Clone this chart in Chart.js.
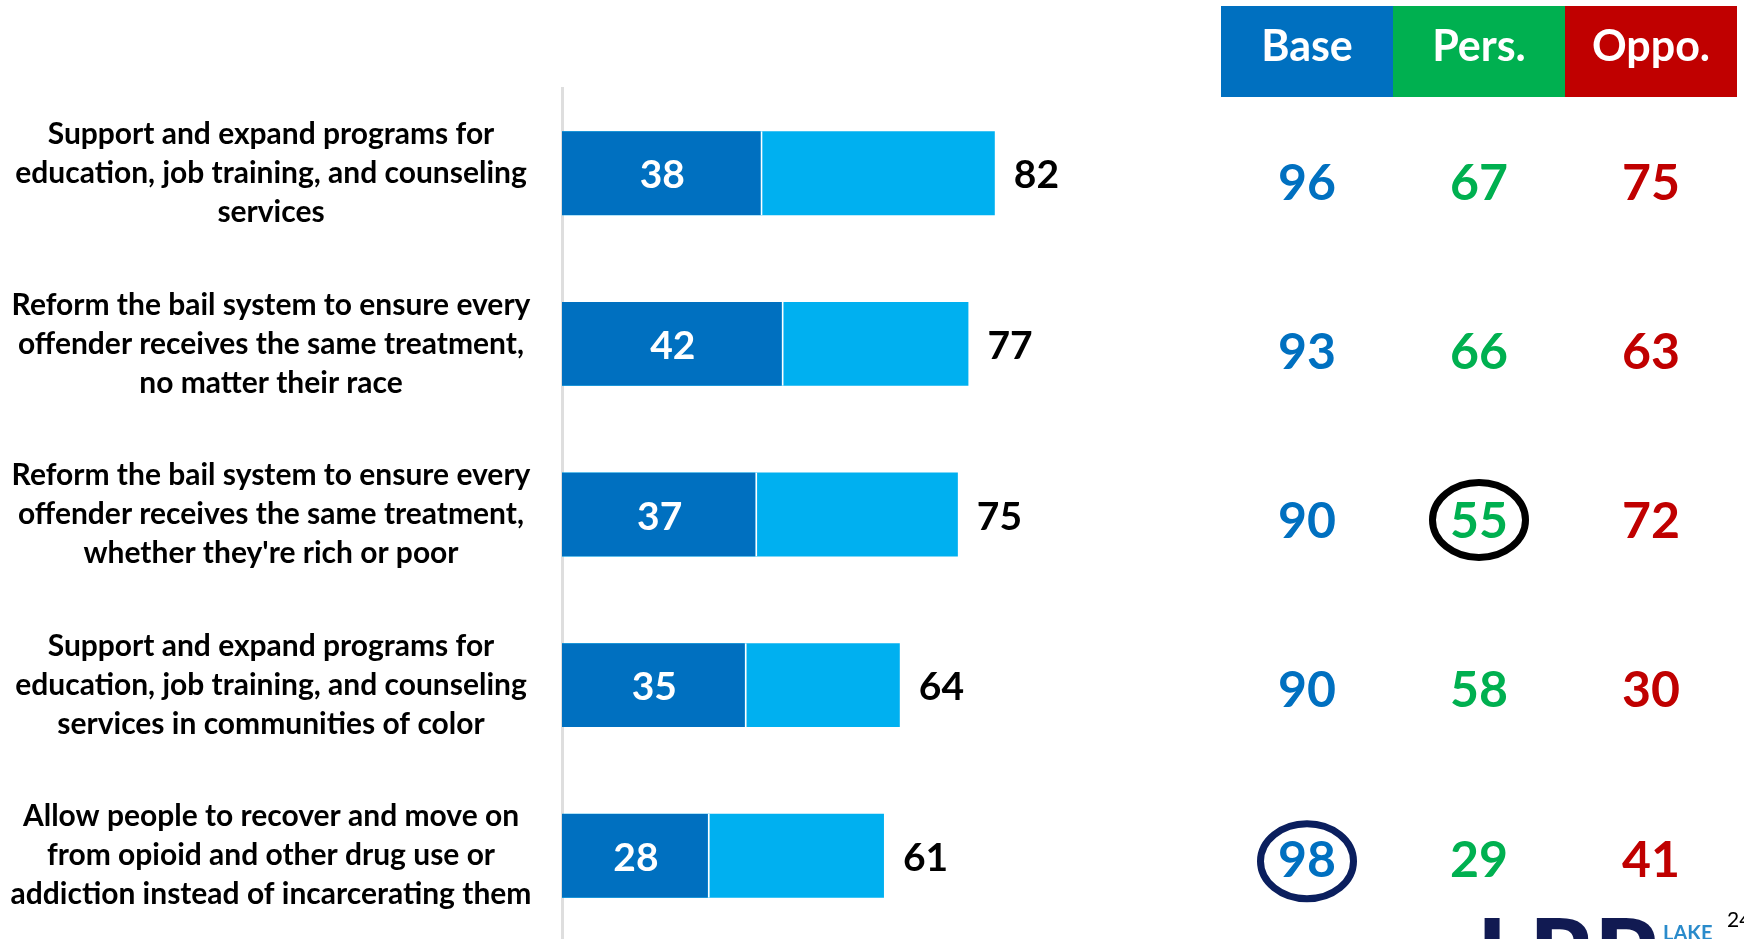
<!DOCTYPE html>
<html><head><meta charset="utf-8">
<script src="https://cdn.jsdelivr.net/npm/chart.js@4.4.1/dist/chart.umd.min.js"></script>
<style>
html,body{margin:0;padding:0;background:#fff;overflow:hidden}
#wrap{width:1744px;height:939px;overflow:hidden;position:relative;background:#fff}
canvas{display:block}
</style></head><body>
<div id="wrap"><canvas id="c" width="1744" height="945" style="width:1744px;height:945px"></canvas></div>
<script>
// ---------- data ----------
const categories = [
  ["Support and expand programs for", "education, job training, and counseling", "services"],
  ["Reform the bail system to ensure every", "offender receives the same treatment,", "no matter their race"],
  ["Reform the bail system to ensure every", "offender receives the same treatment,", "whether they're rich or poor"],
  ["Support and expand programs for", "education, job training, and counseling", "services in communities of color"],
  ["Allow people to recover and move on", "from opioid and other drug use or", "addiction instead of incarcerating them"]
];
const strongSupport = [38, 42, 37, 35, 28];
const totalSupport  = [82, 77, 75, 64, 61];
const tableHeaders  = ["Base", "Pers.", "Oppo."];
const baseVals = [96, 93, 90, 90, 98];
const persVals = [67, 66, 55, 58, 29];
const oppoVals = [75, 63, 72, 30, 41];
const circledCells = [{row: 2, col: 1}, {row: 4, col: 0}];

// ---------- styles ----------
const FONT = 'Lato, "Open Sans", "Noto Sans", sans-serif';
const DARK = '#0070C0', LIGHT = '#00B0F0';
const colColors = ['#0070C0', '#00B050', '#C00000'];
const circleColors = ['#000000', '#0B1F5E'];

// fit label font to the reference label width
const mctx = document.createElement('canvas').getContext('2d');
function widestAt(size) {
  mctx.font = `bold ${size}px ${FONT}`;
  return Math.max(...categories.flat().map(s => mctx.measureText(s).width));
}
let labelSize = Math.min(32, 30 * 521 / widestAt(30));
const labelPad = 562 - 271 - widestAt(labelSize) / 2;

const overlay = {
  id: 'overlay',
  afterDatasetsDraw(chart) {
    const {ctx, scales: {y}} = chart;
    ctx.save();
    // bar value labels
    const m0 = chart.getDatasetMeta(0), m1 = chart.getDatasetMeta(1);
    ctx.font = `bold 39px ${FONT}`;
    ctx.textBaseline = 'alphabetic';
    m0.data.forEach((bar, i) => {
      ctx.fillStyle = '#ffffff'; ctx.textAlign = 'center';
      ctx.fillText(String(strongSupport[i]), (bar.base + bar.x) / 2, bar.y + 15);
    });
    m1.data.forEach((bar, i) => {
      ctx.fillStyle = '#000000'; ctx.textAlign = 'left';
      ctx.fillText(String(totalSupport[i]), bar.x + 19, bar.y + 15);
    });

    // table
    const colW = 172, tableRight = 1737, top = 6, bottom = 97;
    const left = tableRight - 3 * colW;
    tableHeaders.forEach((h, j) => {
      const x0 = left + j * colW;
      ctx.fillStyle = colColors[j];
      ctx.fillRect(x0, top, colW + (j < 2 ? 1 : 0), bottom - top);
      ctx.fillStyle = '#ffffff';
      ctx.font = `bold 43px ${FONT}`;
      ctx.textAlign = 'center';
      ctx.fillText(h, x0 + colW / 2, 61);
    });
    const cols = [baseVals, persVals, oppoVals];
    ctx.font = `bold 50px ${FONT}`;
    cols.forEach((vals, j) => {
      const cx = left + j * colW + colW / 2;
      vals.forEach((v, i) => {
        const cy = y.getPixelForValue(i) + 8.5 - 1.4 * i;
        ctx.fillStyle = colColors[j];
        ctx.textAlign = 'center';
        ctx.fillText(String(v), cx, cy + 18);
      });
    });
    circledCells.forEach((c, k) => {
      const cx = left + c.col * colW + colW / 2;
      const cy = y.getPixelForValue(c.row) + 5.5;
      ctx.beginPath();
      ctx.ellipse(cx, cy, 46.5, 37.5, 0, 0, Math.PI * 2);
      ctx.lineWidth = 7;
      ctx.strokeStyle = circleColors[k];
      ctx.stroke();
    });

    // logo fragment and page number
    ctx.fillStyle = '#111A52';
    ctx.font = `900 100px ${FONT}`;
    ctx.textAlign = 'left';
    ctx.fillText('LRP', 1477, 990);
    ctx.fillStyle = '#2A8BCB';
    ctx.font = `bold 20px ${FONT}`;
    ctx.fillText('LAKE', 1663, 940);
    ctx.fillStyle = '#000000';
    ctx.font = `21px ${FONT}`;
    ctx.fillText('24', 1727, 927);
    ctx.restore();
  }
};

new Chart(document.getElementById('c'), {
  type: 'bar',
  data: {
    labels: categories,
    datasets: [
      {label: 'Strongly support', data: strongSupport, backgroundColor: DARK,
       borderColor: '#ffffff', borderWidth: {top: 0, bottom: 0, left: 0, right: 2},
       grouped: false, barPercentage: 0.492, categoryPercentage: 1},
      {label: 'Total support', data: totalSupport, backgroundColor: LIGHT,
       borderWidth: 0, grouped: false, barPercentage: 0.492, categoryPercentage: 1}
    ]
  },
  options: {
    indexAxis: 'y',
    responsive: false,
    animation: false,
    devicePixelRatio: 1,
    layout: {padding: {left: 0, top: 88, right: 5, bottom: 4}},
    plugins: {legend: {display: false}, tooltip: {enabled: false}},
    scales: {
      x: {type: 'linear', min: 0, max: 223, display: false},
      y: {
        grid: {display: false, drawTicks: false},
        border: {display: true, color: '#DEDEDE', width: 3},
        ticks: {
          color: '#000000', autoSkip: false, crossAlign: 'center', padding: labelPad,
          font: {family: FONT, weight: 'bold', size: labelSize, lineHeight: 39 / labelSize}
        },
        afterFit(s) { s.width = 562; s.paddingTop = 0; s.paddingBottom = 0; }
      }
    }
  },
  plugins: [overlay]
});
</script>
</body></html>
